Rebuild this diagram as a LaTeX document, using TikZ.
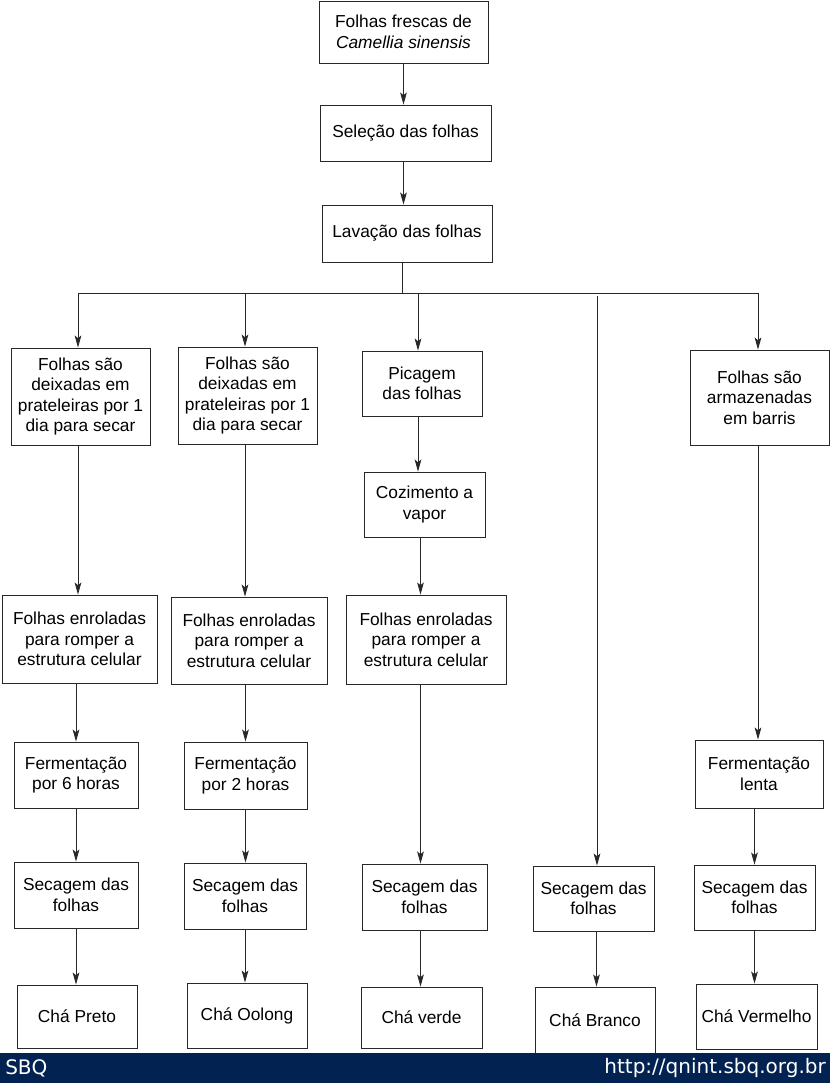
\documentclass[tikz,border=0pt]{standalone}
\usepackage{fontspec}
\setmainfont{Liberation Sans}
\newfontfamily\dejavu{DejaVu Sans}
\usetikzlibrary{arrows.meta}
\definecolor{navy}{RGB}{2,34,82}
\definecolor{lineg}{RGB}{40,40,40}
\tikzset{
  box/.style={draw=lineg, line width=0.7pt, fill=white, align=center, inner sep=0pt,
    font=\fontsize{13}{15.4}\selectfont},
  arr/.style={draw=lineg, line width=0.6pt, -{Stealth[length=9pt,width=5pt,inset=2pt]}},
  ln/.style={draw=lineg, line width=0.6pt},
  foot/.style={text=white, inner sep=0pt, font=\dejavu\fontsize{15}{18}\selectfont}
}
\newcommand{\bx}[6]{\node[box, minimum width={(#4-#2)*0.75pt}, minimum height={(#5-#3)*0.75pt}] (#1) at ({(#2+#4)/2},{(#3+#5)/2}) {#6};}
\begin{document}
\begin{tikzpicture}[x=0.75pt,y=-0.75pt]
\useasboundingbox (0,0) rectangle (830,1083);
\fill[white] (0,0) rectangle (830,1083);
% top chain
\bx{Top}{319}{1}{488}{63}{Folhas frescas de\\\textit{Camellia sinensis}}
\bx{Sel}{320}{105}{491}{161}{Seleção das folhas}
\bx{Lav}{322}{205}{492}{262}{Lavação das folhas}
% row 1
\bx{A1}{11}{348}{150}{445}{Folhas são\\deixadas em\\prateleiras por 1\\dia para secar}
\bx{B1}{178}{347}{317}{444}{Folhas são\\deixadas em\\prateleiras por 1\\dia para secar}
\bx{C1}{362}{351}{482}{416}{Picagem\\das folhas}
\bx{E1}{690}{350}{829}{445}{Folhas são\\armazenadas\\em barris}
\bx{C2}{364}{472}{485}{537}{Cozimento a\\vapor}
% row 2
\bx{A2}{2}{595}{157}{683}{Folhas enroladas\\para romper a\\estrutura celular}
\bx{B2}{171}{597}{327}{684}{Folhas enroladas\\para romper a\\estrutura celular}
\bx{C3}{346}{595}{506}{684}{Folhas enroladas\\para romper a\\estrutura celular}
% row 3
\bx{A3}{14}{742}{138}{808}{Fermentação\\por 6 horas}
\bx{B3}{184}{742}{307}{809}{Fermentação\\por 2 horas}
\bx{E3}{695}{740}{823}{808}{Fermentação\\lenta}
% row 4
\bx{A4}{14}{862}{138}{928}{Secagem das\\folhas}
\bx{B4}{184}{863}{306}{929}{Secagem das\\folhas}
\bx{C4}{362}{864}{487}{930}{Secagem das\\folhas}
\bx{D4}{533}{866}{654}{931}{Secagem das\\folhas}
\bx{E4}{694}{865}{815}{930}{Secagem das\\folhas}
% row 5
\bx{A5}{17}{985}{137}{1048}{Chá Preto}
\bx{B5}{187}{983}{307}{1048}{Chá Oolong}
\bx{C5}{361}{987}{482}{1048}{Chá verde}
\bx{D5}{535}{987}{655}{1053}{\raisebox{-5pt}{Chá Branco}}
\bx{E5}{696}{984}{817}{1049}{Chá Vermelho}
% bus
\coordinate (J) at (402,293);
\coordinate (busL) at (78,293);
\coordinate (busR) at (758,293);
\coordinate (Dtop) at (597,296);
\draw[arr] (Top.south) -- (Top.south |- Sel.north);
\draw[arr] (Top.south |- Sel.south) -- (Top.south |- Lav.north);
\draw[ln] (J |- Lav.south) -- (J);
\draw[ln] (busL) -- (busR);
\draw[arr] (busL) -- (busL |- A1.north);
\draw[arr] (B1.north |- busL) ++(-2.5,0) coordinate (bB) -- (bB |- B1.north);
\draw[arr] (C1.north |- busL) ++(-4,0) coordinate (bC) -- (bC |- C1.north);
\draw[arr] (busR) -- (busR |- E1.north);
\draw[arr] (Dtop) -- (Dtop |- D4.north);
% column A
\draw[arr] (busL |- A1.south) -- (busL |- A2.north);
\draw[arr] (A3.north |- A2.south) -- (A3.north);
\draw[arr] (A3.south) -- (A3.south |- A4.north);
\draw[arr] (A4.south) -- (A4.south |- A5.north);
% column B
\draw[arr] (bB |- B1.south) -- (bB |- B2.north);
\draw[arr] (B3.north |- B2.south) -- (B3.north);
\draw[arr] (B3.south) -- (B3.south |- B4.north);
\draw[arr] (B4.south) -- (B4.south |- B5.north);
% column C
\draw[arr] (bC |- C1.south) -- (bC |- C2.north);
\draw[arr] (C2.south) ++(-4,0) coordinate (cC) -- (cC |- C3.north);
\draw[arr] (cC |- C3.south) -- (cC |- C4.north);
\draw[arr] (C4.south) ++(-4,0) coordinate (cD) -- (cD |- C5.north);
% column D
\draw[arr] (D4.south) ++(3,0) coordinate (dD) -- (dD |- D5.north);
% column E
\draw[arr] (busR |- E1.south) -- (busR |- E3.north);
\draw[arr] (E4.north |- E3.south) -- (E4.north);
\draw[arr] (E4.south) -- (E4.south |- E5.north);
% footer
\fill[navy] (0,1053) rectangle (830,1083);
\node[foot, anchor=west] (sbq) at (5,1068) {SBQ};
\node[foot, anchor=east] (url) at (826,1068) {http://qnint.sbq.org.br};
\end{tikzpicture}
\end{document}
